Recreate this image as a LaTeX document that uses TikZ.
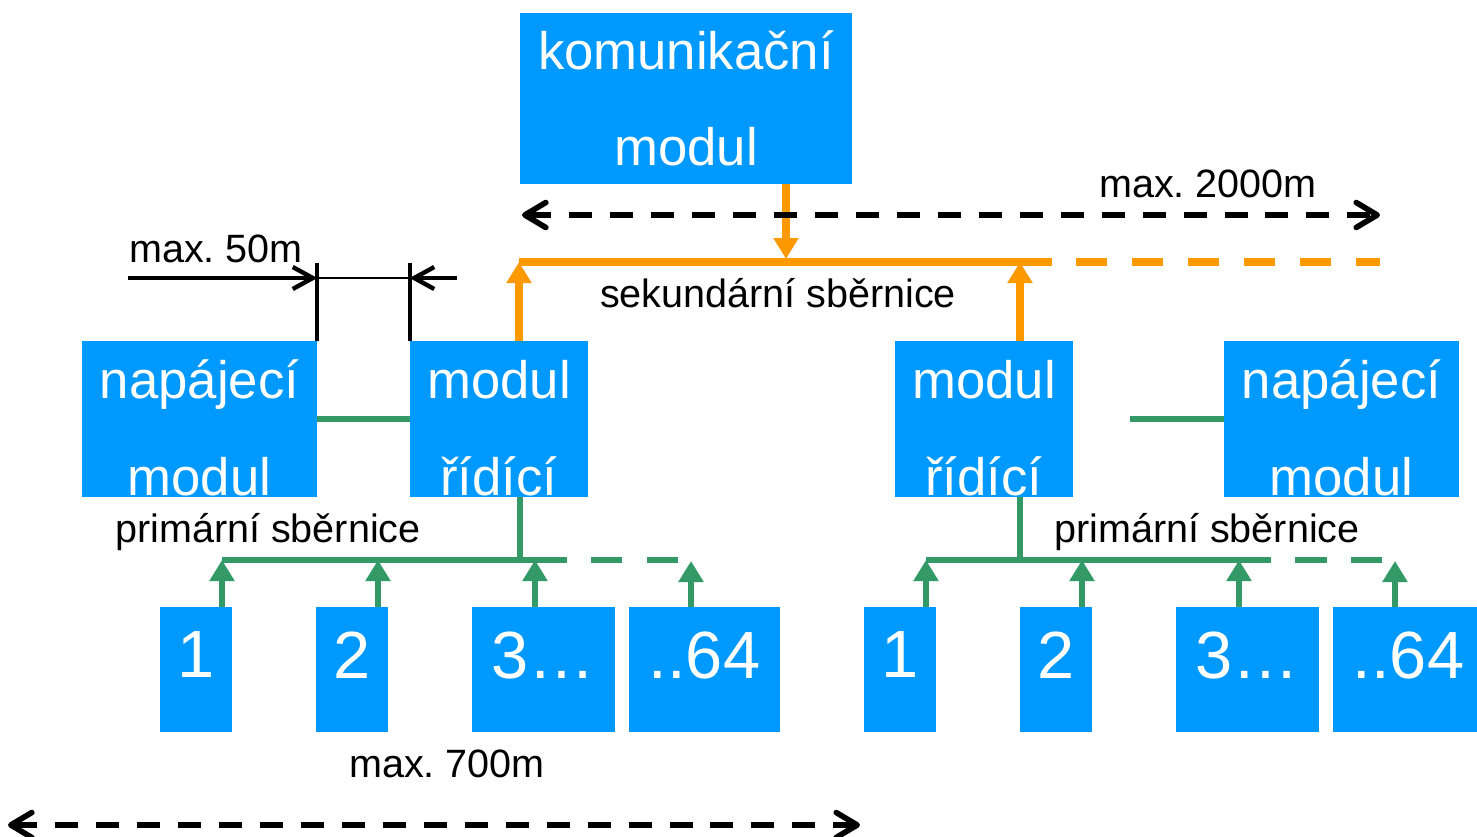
\documentclass[tikz,border=0pt]{standalone}
\usepackage{fontspec}
\setmainfont{Liberation Sans}
\frenchspacing
\usetikzlibrary{arrows.meta}
\definecolor{modblue}{RGB}{0,153,255}
\definecolor{busorange}{RGB}{255,153,0}
\definecolor{busgreen}{RGB}{51,153,102}
\newcommand\boxfont{\fontsize{30}{55}\selectfont}
\newcommand\numfont{\fontsize{38}{45}\selectfont}
\newcommand\lblfont{\fontsize{22.5}{27}\selectfont}
\newcommand\uprule{\rule{0pt}{1.14cm}}

\begin{document}
\begin{tikzpicture}[x=0.02cm,y=-0.02cm,
    modul/.style={fill=modblue,text=white,inner sep=0pt,align=center,font=\boxfont,minimum height=3.12cm},
    cislo/.style={fill=modblue,text=white,inner sep=0pt,font=\numfont,minimum height=2.5cm,text depth=0.58cm},
    popis/.style={anchor=base,inner sep=0pt,font=\lblfont},
    sek/.style={busorange,line width=4.2pt},
    prim/.style={busgreen,line width=3.8pt},
    sipka/.style={-{Triangle[length=0.42cm,width=0.48cm]}},
    carka/.style={dash pattern=on 0.63cm off 0.49cm},
    rozsah/.style={line width=3.2pt,dash pattern=on 0.46cm off 0.36cm,
      {Straight Barb[length=0.42cm,width=0.5cm,round]}-{Straight Barb[length=0.42cm,width=0.5cm,round]}},
    kota/.style={line width=2.5pt,-{Straight Barb[length=0.4cm,width=0.44cm]}}]
  \useasboundingbox (0,0) rectangle (1477,836);
  % moduly
  \node[modul,minimum width=6.64cm,minimum height=3.42cm] (kom) at (686,98.5) {komunikační\\modul};
  \node[modul,minimum width=4.7cm] (napL) at (199.5,419) {\uprule napájecí\\modul};
  \node[modul,minimum width=3.56cm] (ridL) at (499,419) {\uprule modul\\řídící};
  \node[modul,minimum width=3.56cm] (ridR) at (984,419) {\uprule modul\\řídící};
  \node[modul,minimum width=4.7cm] (napR) at (1341.5,419) {\uprule napájecí\\modul};
  %
  \node[cislo,minimum width=1.44cm] (nL1) at (196,669.5) {1};
  \node[cislo,minimum width=1.44cm] (nL2) at (352,669.5) {2};
  \node[cislo,minimum width=2.86cm] (nL3) at (543.5,669.5) {3…};
  \node[cislo,minimum width=3.02cm] (nL4) at (704.5,669.5) {..64};
  \node[cislo,minimum width=1.44cm] (nR1) at (900,669.5) {1};
  \node[cislo,minimum width=1.44cm] (nR2) at (1056,669.5) {2};
  \node[cislo,minimum width=2.86cm] (nR3) at (1247.5,669.5) {3…};
  \node[cislo,minimum width=3.02cm] (nR4) at (1408.5,669.5) {..64};
  % sekundarni sbernice
  \coordinate (sL) at (519,262);
  \coordinate (sR) at (1020,262);
  \coordinate (sK) at (786,259);
  \coordinate (sE) at (1380,262);
  \draw[sek] (sL) -- (sR);
  \draw[sek,carka] (sR) -- (sE);
  \draw[sek,sipka] (kom.south -| sK) -- (sK);
  \draw[sek,sipka] (ridL.north -| sL) -- (sL);
  \draw[sek,sipka] (ridR.north -| sR) -- (sR);
  % primarni sbernice
  \coordinate (jL) at (520,560);
  \coordinate (aL1) at (222,560);
  \coordinate (aL2) at (378,560);
  \coordinate (aL3) at (535,560);
  \coordinate (aL4) at (691,561);
  \coordinate (eL) at (679,560);
  \coordinate (jR) at (1020,560);
  \coordinate (aR1) at (926,560);
  \coordinate (aR2) at (1082,560);
  \coordinate (aR3) at (1239,560);
  \coordinate (aR4) at (1395,561);
  \coordinate (eR) at (1383,560);
  \coordinate (gR) at (1130,419);
  \draw[prim] (napL.east) -- (ridL.west);
  \draw[prim] (gR) -- (napR.west);
  \draw[prim] (ridL.south -| jL) -- (jL);
  \draw[prim] (ridR.south -| jR) -- (jR);
  \draw[prim] (aL1) -- (aL3);
  \draw[prim,carka] (aL3) -- (eL);
  \draw[prim] (aR1) -- (aR3);
  \draw[prim,carka] (aR3) -- (eR);
  \draw[prim,sipka] (nL1.north -| aL1) -- (aL1);
  \draw[prim,sipka] (nL2.north -| aL2) -- (aL2);
  \draw[prim,sipka] (nL3.north -| aL3) -- (aL3);
  \draw[prim,sipka] (nL4.north -| aL4) -- (aL4);
  \draw[prim,sipka] (nR1.north -| aR1) -- (aR1);
  \draw[prim,sipka] (nR2.north -| aR2) -- (aR2);
  \draw[prim,sipka] (nR3.north -| aR3) -- (aR3);
  \draw[prim,sipka] (nR4.north -| aR4) -- (aR4);
  % koty
  \coordinate (dA) at (128,278);
  \coordinate (dB) at (457,278);
  \draw[line width=2.2pt] (napL.north east) -- ++(0,-78);
  \draw[line width=2.2pt] (ridL.north west) -- ++(0,-78);
  \draw[kota] (dA) -- (dA -| napL.east);
  \draw[kota] (dB) -- (dB -| ridL.west);
  \draw[line width=1.4pt] (dA -| napL.east) -- (dB -| ridL.west);
  \coordinate (r1) at (522,215);
  \coordinate (r2) at (1380,215);
  \coordinate (r3) at (8,825);
  \coordinate (r4) at (860,825);
  \draw[rozsah] (r1) -- (r2);
  \draw[rozsah] (r3) -- (r4);
  % popisky
  \node[popis] (l50) at (216,262) {max. 50m};
  \node[popis] (l2000) at (1208,197) {max. 2000m};
  \node[popis] (lsek) at (778,307) {sekundární sběrnice};
  \node[popis] (lprimL) at (268,542) {primární sběrnice};
  \node[popis] (lprimR) at (1207,542) {primární sběrnice};
  \node[popis] (l700) at (447,777) {max. 700m};
\end{tikzpicture}
\end{document}
